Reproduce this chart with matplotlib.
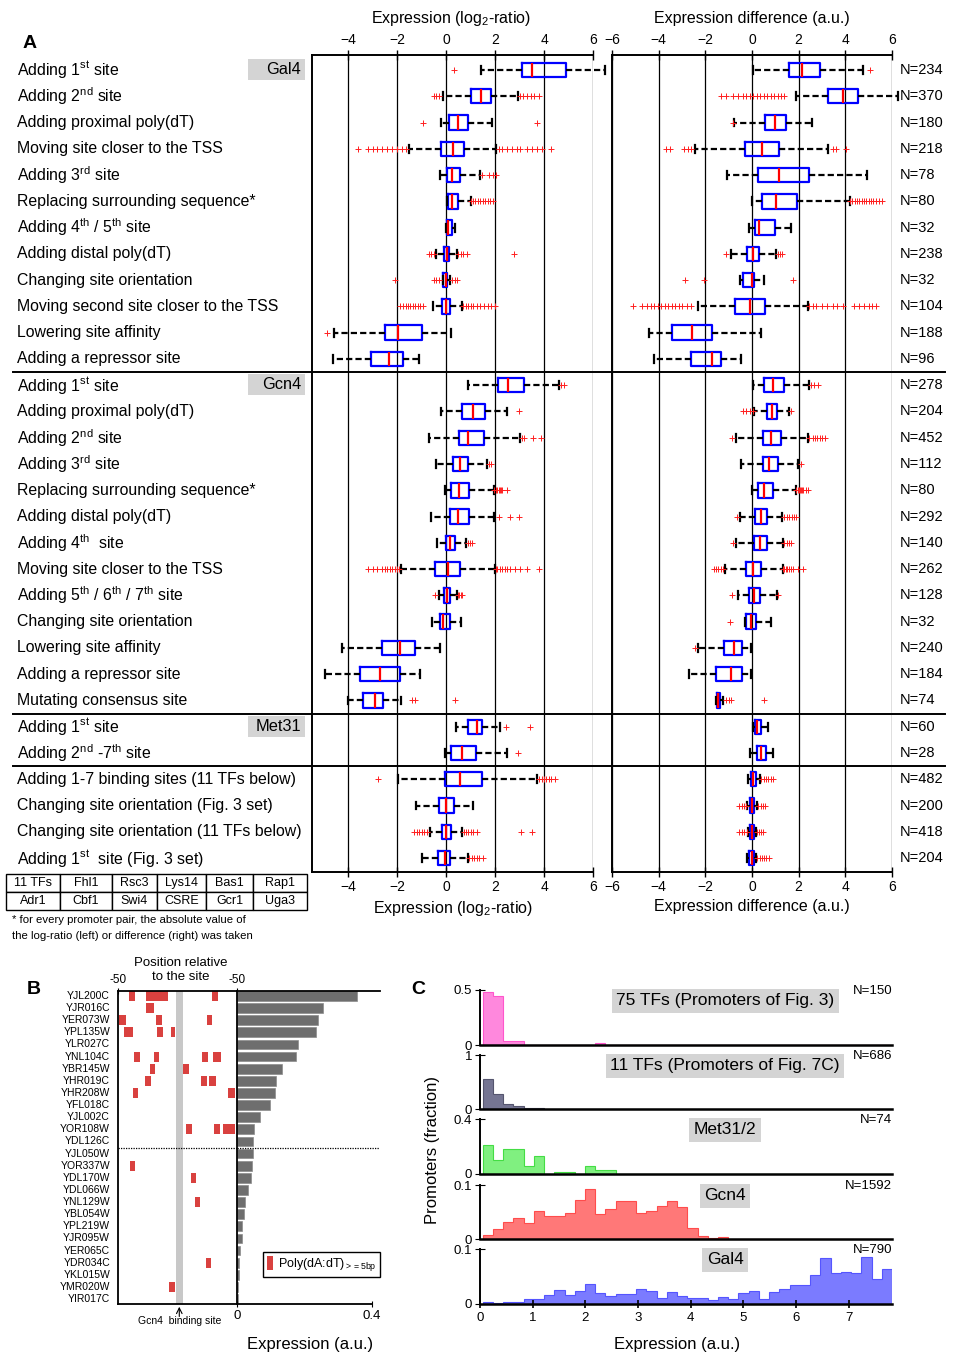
import numpy as np
import matplotlib
matplotlib.use('Agg')
import matplotlib.pyplot as plt
from matplotlib.transforms import blended_transform_factory
from matplotlib.patches import Rectangle, Patch
from matplotlib.lines import Line2D

plt.rcParams['font.family'] = ['Liberation Sans', 'DejaVu Sans']
plt.rcParams['mathtext.fontset'] = 'custom'
plt.rcParams['mathtext.rm'] = 'Liberation Sans'
plt.rcParams['mathtext.it'] = 'Liberation Sans:italic'

W, H = 967, 1355


def box(x0, y0, x1, y1):
    # pixel box (top-left origin) -> figure fraction rect
    return [x0 / W, 1 - y1 / H, (x1 - x0) / W, (y1 - y0) / H]


# ---------------- panel A data ----------------
row_labels = [
    r'Adding $1^{\mathrm{st}}$ site', r'Adding $2^{\mathrm{nd}}$ site', 'Adding proximal poly(dT)',
    'Moving site closer to the TSS', r'Adding $3^{\mathrm{rd}}$ site', 'Replacing surrounding sequence*',
    r'Adding $4^{\mathrm{th}}$ / $5^{\mathrm{th}}$ site', 'Adding distal poly(dT)', 'Changing site orientation',
    'Moving second site closer to the TSS', 'Lowering site affinity', 'Adding a repressor site',
    r'Adding $1^{\mathrm{st}}$ site', 'Adding proximal poly(dT)', r'Adding $2^{\mathrm{nd}}$ site',
    r'Adding $3^{\mathrm{rd}}$ site', 'Replacing surrounding sequence*', 'Adding distal poly(dT)',
    r'Adding $4^{\mathrm{th}}$  site', 'Moving site closer to the TSS',
    r'Adding $5^{\mathrm{th}}$ / $6^{\mathrm{th}}$ / $7^{\mathrm{th}}$ site', 'Changing site orientation',
    'Lowering site affinity', 'Adding a repressor site', 'Mutating consensus site',
    r'Adding $1^{\mathrm{st}}$ site', r'Adding $2^{\mathrm{nd}}$ -$7^{\mathrm{th}}$ site',
    'Adding 1-7 binding sites (11 TFs below)', 'Changing site orientation (Fig. 3 set)',
    'Changing site orientation (11 TFs below)', r'Adding $1^{\mathrm{st}}$  site (Fig. 3 set)',
]
groups = ['Gal4', 'Gcn4', 'Met31']
group_rows = [0, 12, 25]
dividers = [11.5, 24.5, 26.5]
n_counts = [234, 370, 180, 218, 78, 80, 32, 238, 32, 104, 188, 96,
            278, 204, 452, 112, 80, 292, 140, 262, 128, 32, 240, 184, 74,
            60, 28, 482, 200, 418, 204]

# log2-ratio (left)
L_whislo = [1.41, -0.11, -0.2, -1.53, -0.24, 0.03, -0.01, -0.4, -0.11, -0.54, -4.57, -4.61,
            0.91, -0.2, -0.68, -0.39, -0.03, -0.63, -0.38, -1.85, -0.3, -0.59, -4.24, -4.94, -3.99,
            0.4, -0.05, -1.98, -1.24, -0.66, -0.98]
L_q1 = [3.11, 1.01, 0.14, -0.2, 0.04, 0.1, 0.03, -0.08, -0.11, -0.16, -2.5, -3.05,
        2.12, 0.67, 0.52, 0.29, 0.22, 0.15, 0.0, -0.44, -0.08, -0.26, -2.63, -3.5, -3.4,
        0.91, 0.19, -0.05, -0.29, -0.17, -0.34]
L_med = [3.51, 1.41, 0.5, 0.27, 0.26, 0.24, 0.08, 0.03, -0.01, -0.01, -1.95, -2.34,
         2.52, 1.1, 0.91, 0.59, 0.54, 0.48, 0.18, 0.07, 0.03, -0.11, -1.86, -2.68, -2.9,
         1.26, 0.66, 0.59, 0.0, 0.0, -0.05]
L_q3 = [4.89, 1.85, 0.88, 0.72, 0.58, 0.5, 0.23, 0.14, 0.05, 0.16, -0.96, -1.76,
        3.17, 1.59, 1.56, 0.88, 0.93, 0.95, 0.37, 0.56, 0.16, 0.15, -1.25, -1.86, -2.56,
        1.48, 1.22, 1.47, 0.33, 0.19, 0.17]
L_whishi = [6.51, 2.93, 1.89, 2.05, 1.38, 1.0, 0.38, 0.46, 0.16, 0.66, 0.19, -1.09,
            4.6, 2.49, 3.02, 1.67, 1.97, 1.95, 0.82, 2.0, 0.45, 0.61, -0.26, -1.06, -1.84,
            2.2, 2.5, 3.71, 1.12, 0.66, 0.88]
L_fliers = [
    [0.34],
    [-0.5, -0.4, -0.3, 3.0, 3.15, 3.3, 3.45, 3.6, 3.8],
    [-0.95, 3.7],
    [-3.6, -3.2, -3.0, -2.8, -2.6, -2.4, -2.2, -2.0, -1.8, -1.65, 2.15, 2.3, 2.5, 2.7, 2.9, 3.0, 3.3, 3.5, 3.7, 3.9, 4.3],
    [1.45, 1.75, 1.9, 2.05],
    [1.0, 1.1, 1.2, 1.3, 1.4, 1.5, 1.6, 1.7, 1.8, 1.9],
    [],
    [-0.68, -0.6, -0.5, 0.5, 0.6, 0.7, 0.84, 2.77],
    [-2.1, -0.5, -0.4, -0.3, 0.25, 0.35, 0.45],
    [-1.86, -1.75, -1.65, -1.55, -1.45, -1.35, -1.25, -1.15, -1.05, -0.95, 0.7, 0.8, 0.9, 1.0, 1.1, 1.25, 1.4, 1.55, 1.7, 1.85, 2.0],
    [-4.84],
    [],
    [4.7, 4.8],
    [2.97],
    [3.1, 3.2, 3.54, 3.88],
    [1.74, 1.85],
    [1.97, 2.05, 2.1, 2.15, 2.2, 2.25, 2.3, 2.5],
    [2.18, 2.63, 2.99],
    [0.88, 0.98, 1.08],
    [-3.2, -3.0, -2.8, -2.6, -2.5, -2.4, -2.3, -2.2, -2.1, -2.0, -1.9, 2.05, 2.1, 2.2, 2.3, 2.4, 2.5, 2.6, 2.8, 3.0, 3.3, 3.8],
    [-0.44, 0.5, 0.55, 0.6, 0.65],
    [],
    [],
    [],
    [-1.4, -1.25, 0.38],
    [2.43, 3.43],
    [2.93],
    [-2.79, 3.8, 3.9, 4.0, 4.1, 4.2, 4.3, 4.45],
    [],
    [-1.3, -1.2, -1.1, -1.0, -0.9, -0.78, 0.72, 0.8, 0.9, 1.0, 1.1, 1.25, 3.07, 3.53],
    [0.95, 1.05, 1.15, 1.25, 1.35, 1.5],
]

# expression difference (right)
R_whislo = [0.03, 1.89, -0.76, -2.43, -1.09, 0.0, -0.14, -0.89, -0.5, -2.33, -4.4, -4.19,
            0.03, 0.1, -0.69, -0.47, 0.0, -0.51, -0.69, -1.17, -0.6, -0.29, -2.31, -2.71, -1.54,
            0.04, -0.09, -0.16, -0.23, -0.18, -0.22]
R_q1 = [1.57, 3.26, 0.56, -0.31, 0.26, 0.43, 0.11, -0.23, -0.39, -0.71, -3.43, -2.61,
        0.53, 0.64, 0.46, 0.46, 0.26, 0.14, 0.1, -0.24, -0.11, -0.24, -1.2, -1.54, -1.49,
        0.13, 0.22, -0.04, -0.09, -0.07, -0.11]
R_med = [2.13, 3.9, 0.99, 0.44, 1.14, 1.01, 0.31, 0.06, -0.01, -0.07, -2.56, -1.71,
         0.91, 0.87, 0.81, 0.74, 0.5, 0.39, 0.36, 0.06, 0.1, -0.04, -0.79, -0.9, -1.44,
         0.23, 0.4, 0.05, 0.0, 0.0, -0.02]
R_q3 = [2.93, 4.56, 1.47, 1.17, 2.43, 1.94, 0.99, 0.29, 0.09, 0.57, -1.73, -1.33,
        1.36, 1.07, 1.24, 1.1, 0.91, 0.63, 0.63, 0.39, 0.34, 0.17, -0.44, -0.43, -1.37,
        0.4, 0.59, 0.18, 0.09, 0.07, 0.07]
R_whishi = [4.74, 6.24, 2.57, 3.26, 4.91, 4.2, 1.67, 1.03, 0.51, 2.39, 0.4, -0.47,
            2.46, 1.57, 2.39, 1.99, 1.89, 1.29, 1.31, 1.31, 1.06, 0.83, -0.04, -0.04, -1.26,
            0.68, 0.9, 0.36, 0.23, 0.18, 0.18]
R_fliers = [
    [5.07],
    [-1.33, -1.1, -0.8, -0.6, -0.4, -0.25, -0.1, 0.05, 0.2, 0.35, 0.5, 0.65, 0.8, 0.95, 1.1, 1.25, 1.39],
    [-0.83],
    [-3.69, -3.5, -2.93, -2.75, -2.6, 3.46, 3.6, 4.03],
    [],
    [4.2, 4.3, 4.4, 4.5, 4.6, 4.7, 4.8, 4.9, 5.0, 5.1, 5.2, 5.3, 5.45, 5.57],
    [],
    [-1.11, 1.1, 1.2, 1.29],
    [-2.86, -2.04, 1.74],
    [-5.11, -4.7, -4.5, -4.35, -4.2, -4.05, -3.9, -3.75, -3.6, -3.45, -3.3, -3.15, -3.0, -2.8, -2.61,
     2.46, 2.6, 2.75, 3.0, 3.2, 3.45, 3.65, 3.89, 4.39, 4.6, 4.8, 5.0, 5.15, 5.31],
    [],
    [],
    [2.53, 2.65, 2.81],
    [-0.4, -0.25, -0.1, 0.03, 1.67],
    [-0.86, 2.46, 2.6, 2.7, 2.8, 2.9, 3.0, 3.14],
    [2.1],
    [1.89, 1.95, 2.0, 2.05, 2.1, 2.15, 2.2, 2.3, 2.39],
    [-0.64, 1.39, 1.5, 1.6, 1.7, 1.8, 1.89],
    [-0.8, 1.39, 1.5, 1.6, 1.67],
    [-1.64, -1.55, -1.45, -1.35, -1.26, 1.31, 1.38, 1.45, 1.52, 1.6, 1.67, 1.74, 1.95, 2.2],
    [-0.86, 1.13],
    [-0.93],
    [-2.43],
    [],
    [-1.11, -1.0, -0.9, 0.53],
    [],
    [],
    [0.4, 0.5, 0.6, 0.7, 0.8, 0.9],
    [-0.54, -0.45, -0.35, -0.27, 0.27, 0.38, 0.45, 0.54],
    [-0.54, -0.45, -0.35, -0.22, 0.22, 0.3, 0.38, 0.45],
    [0.23, 0.33, 0.43, 0.53, 0.62, 0.72],
]

table_cells = [['11 TFs', 'Fhl1', 'Rsc3', 'Lys14', 'Bas1', 'Rap1'],
               ['Adr1', 'Cbf1', 'Swi4', 'CSRE', 'Gcr1', 'Uga3']]

# ---------------- panel B data ----------------
genes = ['YJL200C', 'YJR016C', 'YER073W', 'YPL135W', 'YLR027C', 'YNL104C', 'YBR145W',
         'YHR019C', 'YHR208W', 'YFL018C', 'YJL002C', 'YOR108W', 'YDL126C', 'YJL050W',
         'YOR337W', 'YDL170W', 'YDL066W', 'YNL129W', 'YBL054W', 'YPL219W', 'YJR095W',
         'YER065C', 'YDR034C', 'YKL015W', 'YMR020W', 'YIR017C']
gene_expr = [0.355, 0.254, 0.241, 0.235, 0.182, 0.174, 0.132, 0.117, 0.114, 0.097, 0.069,
             0.05, 0.048, 0.047, 0.045, 0.04, 0.033, 0.025, 0.022, 0.016, 0.014, 0.01,
             0.006, 0.005, 0.004, 0.003]
# poly(dA:dT) tracts: gene row, start, end (position relative to the site)
poly_row = [0, 0, 0, 1, 2, 2, 2, 3, 3, 3, 5, 5, 5, 5, 6, 6, 7, 7, 7, 8, 8, 11, 11, 11, 14, 15, 17, 22, 24]
poly_start = [-40.5, -26.8, 28.8, -26.8, -49.2, -17.9, 24.9, -45.0, -17.0, -5.3, -36.3, -19.6, 20.4, 29.9,
              -23.5, 4.5, -27.1, 20.1, 26.5, -37.2, 42.5, 7.5, 30.7, 38.0, -39.9, 11.5, 14.8, 24.0, -7.0]
poly_end = [-35.8, -7.8, 34.1, -19.8, -43.6, -13.4, 29.3, -37.2, -12.6, -1.7, -31.6, -15.4, 26.0, 36.9,
            -19.3, 9.5, -22.6, 24.9, 32.1, -33.0, 48.6, 12.0, 35.5, 48.6, -35.5, 15.9, 19.3, 28.5, -2.0]

# ---------------- panel C data ----------------
hist_names = ['75 TFs (Promoters of Fig. 3)', '11 TFs (Promoters of Fig. 7C)', 'Met31/2', 'Gcn4', 'Gal4']
hist_n = ['N=150', 'N=686', 'N=74', 'N=1592', 'N=790']
hist_ymax = [0.5, 1, 0.4, 0.1, 0.1]
hist_ticklabels = ['0.5', '1', '0.4', '0.1', '0.1']
hist_face = ['#ff88dd', '#757592', '#80f080', '#ff7878', '#7b7bff']
hist_edge = ['#ff55cc', '#55556e', '#44dd44', '#ff4c4c', '#5555ff']
h75 = [0.485, 0.442, 0.036, 0.036, 0, 0, 0, 0, 0, 0, 0, 0.02]
h11 = [0.56, 0.28, 0.1, 0.055, 0.025, 0.01]
hmet = [0.212, 0.102, 0.183, 0.183, 0.059, 0.129, 0, 0.017, 0.017, 0, 0.059, 0.032, 0.032]
hgcn4 = [0.008, 0.019, 0.031, 0.039, 0.029, 0.051, 0.042, 0.042, 0.049, 0.072, 0.093, 0.047,
         0.056, 0.071, 0.071, 0.048, 0.052, 0.061, 0.07, 0.06, 0.02, 0.005, 0.002, 0.004]
hgal4 = [0.004, 0.002, 0.004, 0.004, 0.009, 0.009, 0.016, 0.025, 0.016, 0.023, 0.036, 0.02,
         0.015, 0.019, 0.019, 0.027, 0.024, 0.011, 0.022, 0.014, 0.011, 0.011, 0.007, 0.013,
         0.009, 0.02, 0.024, 0.009, 0.022, 0.027, 0.035, 0.035, 0.053, 0.083, 0.056, 0.058,
         0.056, 0.085, 0.045, 0.063]
hist_vals = [h75, h11, hmet, hgcn4, hgal4]

fig = plt.figure(figsize=(W / 100, H / 100), dpi=100)

# ================= panel A =================
axL = fig.add_axes(box(312, 55, 593, 872))
axR = fig.add_axes(box(612, 55, 892, 872))
nrow = len(row_labels)


def draw_boxes(ax, lo, q1, med, q3, hi, fl):
    stats = [dict(whislo=lo[i], q1=q1[i], med=med[i], q3=q3[i], whishi=hi[i], fliers=fl[i])
             for i in range(nrow)]
    art = ax.bxp(stats, positions=range(nrow), orientation='horizontal', widths=0.55,
                 capwidths=0.3, manage_ticks=False,
                 boxprops=dict(color='#0000ff', lw=1.6),
                 medianprops=dict(color='#ff0000', lw=1.6),
                 whiskerprops=dict(color='black', lw=1.6, ls=(0, (2.8, 1.4))),
                 capprops=dict(color='black', lw=1.6),
                 flierprops=dict(marker='+', markeredgecolor='#ff2020', markersize=4.5,
                                 markeredgewidth=0.7, linestyle='none'))
    for items in art.values():
        for a in items:
            a.set_clip_on(False)
    for m in art['medians']:
        m.set_zorder(4)


draw_boxes(axL, L_whislo, L_q1, L_med, L_q3, L_whishi, L_fliers)
draw_boxes(axR, R_whislo, R_q1, R_med, R_q3, R_whishi, R_fliers)

for ax, xl, ticks in [(axL, (-5.47, 6), [-4, -2, 0, 2, 4, 6]), (axR, (-6, 6), [-6, -4, -2, 0, 2, 4, 6])]:
    ax.set_xlim(*xl)
    ax.set_ylim(nrow - 0.47, -0.57)
    ax.set_xticks(ticks)
    ax.set_yticks([])
    ax.tick_params(axis='x', top=True, labeltop=True, bottom=True, labelbottom=True,
                   direction='inout', length=7, width=1, labelsize=10, pad=2)
    for t in ticks:
        ax.axvline(t, color='black', lw=0.9, zorder=0)
    for s in ['top', 'bottom', 'left']:
        ax.spines[s].set_linewidth(1.4)
    ax.spines['right'].set_visible(False)

axL.set_xlabel(r'Expression (log$_2$-ratio)', fontsize=11.5, labelpad=4)
axR.set_xlabel('Expression difference (a.u.)', fontsize=11.5, labelpad=4)
fig.text(451 / W, 1 - 18 / H, r'Expression (log$_2$-ratio)', ha='center', va='center', fontsize=11.5)
fig.text(752 / W, 1 - 18 / H, 'Expression difference (a.u.)', ha='center', va='center', fontsize=11.5)

trL = blended_transform_factory(fig.transFigure, axL.transData)
for i, lab in enumerate(row_labels):
    t = fig.text(17 / W, 0, lab, fontsize=11.4, va='center', ha='left')
    t.set_transform(trL)
    t.set_position((17 / W, i))
    t = fig.text(900 / W, 0, 'N=%d' % n_counts[i], fontsize=10.5, va='center', ha='left')
    t.set_transform(trL)
    t.set_position((900 / W, i))

for g, r in zip(groups, group_rows):
    fig.add_artist(Rectangle((248 / W, r - 0.42), 57 / W, 0.8, transform=trL,
                             facecolor='#d4d4d4', edgecolor='none'))
    t = fig.text(301 / W, r, g, fontsize=11.8, ha='right', va='center')
    t.set_transform(trL)
    t.set_position((301 / W, r - 0.02))

for d in dividers:
    fig.add_artist(Line2D([13 / W, 945 / W], [d, d], transform=trL, color='black', lw=1.4))

fig.text(30 / W, 1 - 44 / H, 'A', fontsize=14, fontweight='bold', ha='center', va='center')

# table of the 11 TFs
axT = fig.add_axes(box(6, 874, 307, 910))
axT.axis('off')
cw = np.array([54, 52, 45, 49, 47, 54], dtype=float)
tab = axT.table(cellText=table_cells, colWidths=list(cw / cw.sum()), cellLoc='center', bbox=[0, 0, 1, 1])
tab.auto_set_font_size(False)
tab.set_fontsize(9)
for c in tab.get_celld().values():
    c.set_linewidth(1)

fig.text(12 / W, 1 - 920 / H, '* for every promoter pair, the absolute value of', fontsize=8.2, va='center')
fig.text(12 / W, 1 - 936 / H, 'the log-ratio (left) or difference (right) was taken', fontsize=8.2, va='center')

# ================= panel B =================
axP = fig.add_axes(box(118, 991, 237, 1304))
axB = fig.add_axes(box(237, 991, 380, 1304))
ng = len(genes)
for ax in (axP, axB):
    ax.set_ylim(ng - 0.59, -0.41)
    ax.set_yticks([])
axP.set_xlim(-50, 50)
axP.axvspan(-1.5, 4.5, color='#c8c8c8', lw=0)
axP.barh(poly_row, np.array(poly_end) - np.array(poly_start), left=poly_start, height=0.82,
         color='#d9413f', lw=0)
axP.set_xticks([-50, 50])
axP.set_xticklabels(['-50', '-50'])
axP.tick_params(axis='x', top=True, labeltop=True, bottom=False, labelbottom=False,
                direction='inout', length=5, labelsize=8.5, pad=1)
axP.spines['right'].set_visible(False)
for s in ['top', 'bottom', 'left']:
    axP.spines[s].set_linewidth(1.3)
axP.annotate('', xy=(1.5, 0), xycoords=('data', 'axes fraction'), xytext=(0, -11),
             textcoords='offset points', arrowprops=dict(arrowstyle='->', lw=0.8, color='black'),
             annotation_clip=False)
fig.text(180 / W, 1 - 1321 / H, 'Gcn4  binding site', fontsize=7.5, ha='center', va='center')
fig.text(181 / W, 1 - 970 / H, 'Position relative\nto the site', fontsize=9.5, ha='center',
         va='center', linespacing=1.2)

axB.barh(range(ng), gene_expr, height=0.8, color='#6e6e6e', edgecolor='#8c8c8c', lw=0.5)
axB.set_xlim(0, 0.4237)
axB.spines['right'].set_visible(False)
axB.spines['bottom'].set_bounds(0, 0.4)
for s in ['top', 'bottom', 'left']:
    axB.spines[s].set_linewidth(1.3)
axB.set_xticks([0, 0.4])
axB.set_xticklabels(['0', '0.4'])
axB.tick_params(axis='x', direction='inout', length=5, labelsize=9.5, pad=2)
for ax in (axP, axB):
    ax.axhline(12.5, color='black', lw=0.9, ls=(0, (1, 1)))
axB.legend(handles=[Patch(facecolor='#d9413f', edgecolor='none')],
           labels=[r'Poly(dA:dT)$_{\mathrm{{>}{=}5bp}}$'], loc='lower right',
           bbox_to_anchor=(1.0, 27 / 313), borderaxespad=0, fontsize=9, handlelength=0.45,
           handleheight=1.3, handletextpad=0.4, borderpad=0.3, fancybox=False,
           edgecolor='black', framealpha=1)
trP = blended_transform_factory(fig.transFigure, axP.transData)
for i, g in enumerate(genes):
    t = fig.text(110 / W, 0, g, fontsize=7.5, ha='right', va='center')
    t.set_transform(trP)
    t.set_position((110 / W, i))
fig.text(310 / W, 1 - 1345 / H, 'Expression (a.u.)', fontsize=12, ha='center', va='center')
fig.text(34 / W, 1 - 990 / H, 'B', fontsize=14, fontweight='bold', ha='center', va='center')

# ================= panel C =================
c_rows = [(990, 1045), (1055, 1109), (1119, 1174), (1185, 1239), (1249, 1304)]
nbin = len(hgal4)
edges = np.linspace(0.05, 7.82, nbin + 1)
for k, (y0, y1) in enumerate(c_rows):
    ax = fig.add_axes(box(480, y0, 892, y1))
    v = list(hist_vals[k]) + [0] * (nbin - len(hist_vals[k]))
    ax.stairs(v, edges, fill=True, facecolor=hist_face[k], edgecolor=hist_edge[k], lw=0.8)
    ax.set_xlim(0, 7.82)
    ax.set_ylim(0, hist_ymax[k])
    ax.set_yticks([0, hist_ymax[k]])
    ax.set_yticklabels(['0', hist_ticklabels[k]])
    ax.spines['top'].set_visible(False)
    ax.spines['right'].set_visible(False)
    ax.spines['left'].set_linewidth(1.4)
    ax.spines['bottom'].set_linewidth(1.8)
    ax.tick_params(axis='y', direction='inout', length=7, labelsize=9.5, pad=2)
    ax.set_xticks(range(8))
    if k == 4:
        ax.tick_params(axis='x', direction='inout', length=6, width=1.2, labelsize=9.5, pad=3)
    else:
        ax.tick_params(axis='x', length=0, labelbottom=False)
    ax.text(0.595, 0.8, hist_names[k], transform=ax.transAxes, fontsize=12.5, ha='center',
            va='center', bbox=dict(boxstyle='square,pad=0.25', facecolor='#d4d4d4', edgecolor='none'))
    ax.text(1.0, 0.98, hist_n[k], transform=ax.transAxes, fontsize=9.5, ha='right', va='center')

fig.text(433 / W, 1 - 1150 / H, 'Promoters (fraction)', fontsize=12, rotation=90, ha='center', va='center')
fig.text(677 / W, 1 - 1345 / H, 'Expression (a.u.)', fontsize=12, ha='center', va='center')
fig.text(418 / W, 1 - 990 / H, 'C', fontsize=14, fontweight='bold', ha='center', va='center')

fig.savefig('out.png', dpi=100)
